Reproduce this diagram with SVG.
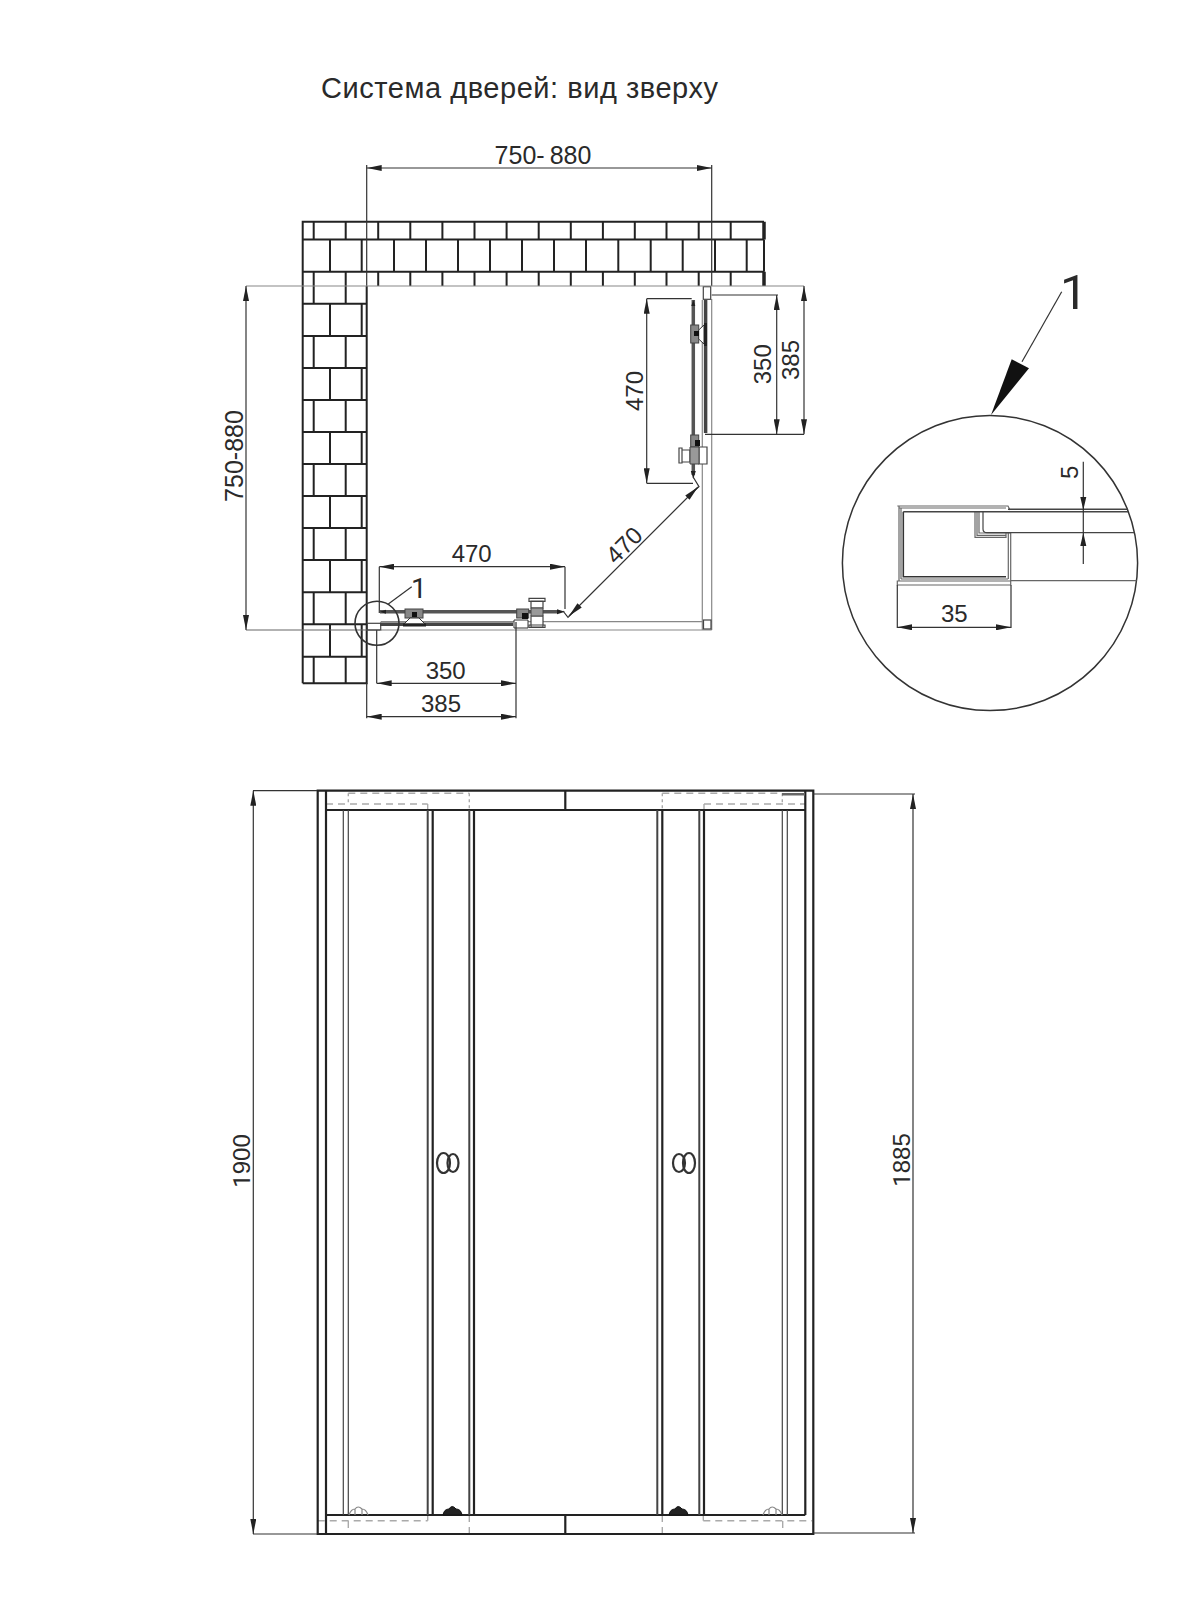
<svg xmlns="http://www.w3.org/2000/svg" width="1200" height="1600" viewBox="0 0 1200 1600">
<style>
text{font-family:"Liberation Sans",Arial,sans-serif;fill:#2a2a2a;font-size:24px}
.m{text-anchor:middle}
.r{font-family:Roboto,"Liberation Sans",sans-serif}
.w{font-size:25px}
.b{fill:none;stroke:#222;stroke-width:2}
.t{fill:none;stroke:#444;stroke-width:1.2}
.g{fill:none;stroke:#888;stroke-width:1.2}
.d{fill:none;stroke:#333;stroke-width:1.2}
.da{marker-start:url(#ar);marker-end:url(#ar)}
.k{fill:none;stroke:#222;stroke-width:2.2}
.f{fill:none;stroke:#666;stroke-width:1.2}
.h{fill:none;stroke:#aaa;stroke-width:1.4;stroke-dasharray:7 5}
.p{fill:#777;stroke:#333;stroke-width:1}
.e{fill:#fff;stroke:#444;stroke-width:1.2}
</style>
<defs>
<marker id="ar" markerUnits="userSpaceOnUse" markerWidth="15" markerHeight="6" refX="15" refY="3" orient="auto-start-reverse" viewBox="0 0 15 6"><path d="M0,0L15,3L0,6z" fill="#222"/></marker>
</defs>
<rect width="1200" height="1600" fill="#fff"/>
<text id="title" x="321" y="98" style="font-size:29px" textLength="397">Система дверей: вид зверху</text>

<g id="wall">
<path class="b" d="M302.7 683.3V221.7H764M302.7 239.5H764M302.7 271.7H764M366.7 286V683.3H302.7"/>
<path class="b" style="stroke-width:3.5" d="M764 221.7V239.5M764 271.7V286"/>
<path class="b" d="M764 239.5V271.7"/>
<path class="b" d="M313.7 221.7V239.5M345.7 221.7V239.5M378.2 221.7V239.5M410.3 221.7V239.5M442.4 221.7V239.5M474.5 221.7V239.5M506.6 221.7V239.5M538.7 221.7V239.5M570.8 221.7V239.5M602.9 221.7V239.5M634.8 221.7V239.5M666.5 221.7V239.5M698.7 221.7V239.5M730.7 221.7V239.5"/>
<path class="b" d="M330 239.5V271.7M361.7 239.5V271.7M394 239.5V271.7M426 239.5V271.7M458 239.5V271.7M490 239.5V271.7M522 239.5V271.7M554 239.5V271.7M586 239.5V271.7M618.3 239.5V271.7M650.7 239.5V271.7M682.7 239.5V271.7M715 239.5V271.7M746.7 239.5V271.7"/>
<path class="b" d="M378.2 271.7V286M410.3 271.7V286M442.4 271.7V286M474.5 271.7V286M506.6 271.7V286M538.7 271.7V286M570.8 271.7V286M602.9 271.7V286M634.8 271.7V286M666.5 271.7V286M698.7 271.7V286M730.7 271.7V286"/>
<path class="b" d="M302.7 303.7H366.7M302.7 336H366.7M302.7 368H366.7M302.7 400H366.7M302.7 432H366.7M302.7 464H366.7M302.7 496H366.7M302.7 528H366.7M302.7 560H366.7M302.7 592.3H366.7M302.7 624.3H366.7M302.7 656.7H366.7"/>
<path class="b" d="M313.7 271.7V303.7M345.7 271.7V303.7M330 303.7V336M361.7 303.7V336M313.7 336V368M345.7 336V368M330 368V400M361.7 368V400M313.7 400V432M345.7 400V432M330 432V464M361.7 432V464M313.7 464V496M345.7 464V496M330 496V528M361.7 496V528M313.7 528V560M345.7 528V560M330 560V592.3M361.7 560V592.3M313.7 592.3V624.3M345.7 592.3V624.3M330 624.3V656.7M361.7 624.3V656.7M313.7 656.7V683.3M345.7 656.7V683.3"/>
</g>

<g id="plan-doors">
<path class="g" d="M380.7 621.7H711.7M380.7 630H711.7M702.3 300V630M711.7 299V630"/>
<rect class="e" x="703.5" y="620" width="7.5" height="9"/>
<rect class="e" x="703.3" y="286.7" width="7.4" height="12.6"/>
<path d="M380 611.7H558" fill="none" stroke="#555" stroke-width="3.5"/>
<path d="M380 624.3H513" fill="none" stroke="#444" stroke-width="3.5"/>
<path d="M705.6 300V433" fill="none" stroke="#444" stroke-width="3.5"/>
<path d="M693.3 300V475" fill="none" stroke="#555" stroke-width="3.5"/>
<path d="M380 611.7l6-2v4zM565 611.7l-8-2.5v5zM693.3 300l-2 6h4zM693.3 479l-2.5-8h5z" fill="#222"/>
<rect x="405" y="609" width="18" height="9" fill="#888" stroke="#444"/>
<path d="M410 618L404 624H425L419 618z" fill="#fff" stroke="#333"/>
<path d="M403 625H426" stroke="#222" stroke-width="3" fill="none"/>
<rect x="412" y="612" width="5" height="5" fill="#111"/>
<rect x="516.7" y="609" width="12" height="9" fill="#888" stroke="#444"/>
<path d="M514 620h14v8h-14z" fill="#fff" stroke="#333"/>
<rect x="522" y="613" width="6" height="6" fill="#111"/>
<g id="handle-plan-bottom">
<path class="e" d="M531 601h12v7h-12zM529 598.3h16v3h-16zM531 616h12v11h-12zM529 625h16v2.500h-16z"/>
<path d="M531 608H543V616H531z" fill="#999" stroke="#444"/>
</g>
<rect x="690.7" y="325" width="8" height="18" fill="#888" stroke="#444"/>
<path d="M698.7 330L704 325V344L698.7 339z" fill="#fff" stroke="#333"/>
<path d="M705.500 323V346" stroke="#222" stroke-width="3" fill="none"/>
<rect x="694" y="331" width="5" height="5" fill="#111"/>
<rect x="690.7" y="435" width="8" height="12" fill="#888" stroke="#444"/>
<rect x="695" y="440" width="5" height="6" fill="#111"/>
<g id="handle-plan-right">
<path class="e" d="M679 448h3v15h-3zM682 450h8v12h-8zM699 447h8v17h-8z"/>
<path d="M690 447h9v17h-9z" fill="#999" stroke="#444"/>
</g>
</g>

<g id="plan-dimensions">
<path class="d" d="M366.7 165V286M711.7 165V286"/>
<path class="d da" d="M366.7 168H711.7"/>
<text class="m w" x="543" y="164">750-<tspan dx="5">880</tspan></text>
<path class="g" d="M246 286H804"/>
<path d="M246 630H380" fill="none" stroke="#666" stroke-width="1.200"/>
<path class="d da" d="M246 286V630"/>
<text class="m w" transform="translate(243 456) rotate(-90)">750-880</text>
<path class="d" d="M379.3 566.7V613M565 566.700V609M376.7 630V683.3M516 622V718.3M366.7 683V718.3"/>
<path class="d da" d="M379.3 566.7H565"/>
<text class="m" x="471.7" y="561.7">470</text>
<path class="d da" d="M376.7 683.3H516"/>
<text class="m" x="445.7" y="679">350</text>
<path class="d da" d="M366.7 716.7H516"/>
<text class="m" x="441" y="711.7">385</text>
<path class="d" d="M563 611L568 617.3L579 606M687 497L699 486.7L693 476.7"/>
<path class="d da" d="M569 616L698 487"/>
<text class="m" transform="translate(630 551) rotate(-45)">470</text>
<path class="d" d="M646.7 298.7H691.7M646.7 483.3H693"/>
<path class="d da" d="M646.7 298.7V483.3"/>
<text class="m" transform="translate(642.7 391) rotate(-90)">470</text>
<path class="d" d="M711.7 295H778M705 434.3H804"/>
<path class="d da" d="M776.7 295V434.3"/>
<text class="m" transform="translate(770.7 364.3) rotate(-90)">350</text>
<path class="d da" d="M804 286V434.3"/>
<text class="m" transform="translate(799 360) rotate(-90)">385</text>
<circle class="d" cx="377" cy="623.3" r="22" style="stroke-width:1.600"/>
<rect x="367.3" y="623.3" width="13.4" height="6.7" fill="none" stroke="#444" stroke-width="1.200"/>
<path class="d" d="M388.3 604L411.7 586.7"/>
<text class="r" x="411" y="598" style="font-size:28px">1</text>
</g>

<g id="detail">
<circle cx="990" cy="563" r="147.6" fill="none" stroke="#333" stroke-width="1.500"/>
<path class="d" d="M1061.7 291.7L1022 361.7"/>
<path d="M991 415L1011.7 359.3L1029 368.300z" fill="#111"/>
<text class="r" x="1060" y="309.3" style="font-size:49px">1</text>
<path class="f" d="M897.3 506H1008L1010 510M899 506V581M901 508V579M899 508H1006M897.3 581H1010.7V585H897.300zM901 579H1008"/>
<path class="f" d="M1008.300 533V579M1010.7 533V581M975 511.7V537.3H1006V533M977 511.7V535.300H1006M979 511.7V533H1010.7"/>
<path d="M903.3 511.700V576.700H1006" fill="none" stroke="#333" stroke-width="1.600"/>
<path d="M903.3 511.700H1128M1008 509.300H1127.500" fill="none" stroke="#444" stroke-width="1.400"/>
<path d="M983 512V529Q983 532.7 987 532.7H1134.500" fill="none" stroke="#444" stroke-width="1.200"/>
<path d="M1010.7 580.7H1136.500" fill="none" stroke="#666" stroke-width="1.200"/>
<path class="d" d="M897.3 585V628M1011 585V628"/>
<path class="d da" d="M897.3 627.3H1011"/>
<text class="m" x="954.3" y="621.7">35</text>
<path class="d" d="M1083.3 461.7V564"/>
<path d="M1083.3 510L1080.3 497H1086.3zM1083.3 532.7L1080.3 546H1086.3z" fill="#222"/>
<text class="m" transform="translate(1078 472.3) rotate(-90)">5</text>
</g>

<g id="front">
<path class="h" d="M348.3 793.3H469.3M326 804H427.7M662.3 793.3H782.3M704 804H805M317.7 1520.7H427.7M703.3 1520.7H812M348.3 1521V1534M469.3 1515V1534M662.3 1515V1534M782.7 1521V1534"/>
<path class="h" style="stroke-dasharray:3 3" d="M348.3 793.3V804M469.3 793.3V810M662.3 793.3V810M782.3 793.3V804"/>
<path class="b" d="M427.7 804V810M704 804V810M427.7 1515V1520.7M703.3 1515V1520.7" style="stroke:#aaa;stroke-width:1.4"/>
<path class="k" d="M317.7 790.7H813.3V1534H317.7zM326 790.7V1534M326 810H805.3M326 1515H805.3M805.3 790.7V1515M565.3 790.7V810M565.3 1515V1534"/>
<path d="M782 793H805V795.5H782z" fill="#666"/>
<path class="t" d="M343.3 810V1515M348.3 810V1515M782.3 810V1515M787.3 810V1515"/>
<path class="t" style="stroke-width:2" d="M427.7 810V1515M657.3 810V1515M469.3 810V1515M699.3 810V1515"/>
<path class="k" d="M432.7 810V1515M474 810V1515M662.3 810V1515M704 810V1515"/>
<path id="roller-l1" class="g" d="M349 1515Q351 1509 355 1509Q358 1505 362 1509Q366 1509 368 1515M355 1509V1515M362 1509V1515"/>
<path id="roller-r1" class="g" d="M763 1515Q765 1509 769 1509Q772 1505 776 1509Q780 1509 782 1515M769 1509V1515M776 1509V1515"/>
<path id="roller-l2" d="M443 1515Q444 1509 449 1509Q452 1504 456 1509Q461 1509 462 1515z" fill="#222" stroke="#111"/>
<path id="roller-r2" d="M669 1515Q670 1509 675 1509Q678 1504 682 1509Q687 1509 688 1515z" fill="#222" stroke="#111"/>
<g id="handle-l" fill="none" stroke="#333" stroke-width="2.200"><ellipse cx="443.5" cy="1163" rx="6.5" ry="10"/><ellipse cx="453" cy="1163" rx="5.5" ry="9"/></g>
<g id="handle-r" fill="none" stroke="#333" stroke-width="2.200"><ellipse cx="679" cy="1163" rx="6" ry="9"/><ellipse cx="689" cy="1163" rx="6" ry="10"/></g>
</g>

<g id="front-dimensions">
<path class="d" d="M253 790.7H317M253 1534H317M813 794H915M813 1533H915"/>
<path class="d da" d="M253.3 790.7V1534"/>
<path class="d da" d="M913 794V1533"/>
<text class="m" transform="translate(250 1161) rotate(-90)"><tspan class="r">1</tspan>900</text>
<text class="m" transform="translate(910 1160) rotate(-90)"><tspan class="r">1</tspan>885</text>
</g>
</svg>
